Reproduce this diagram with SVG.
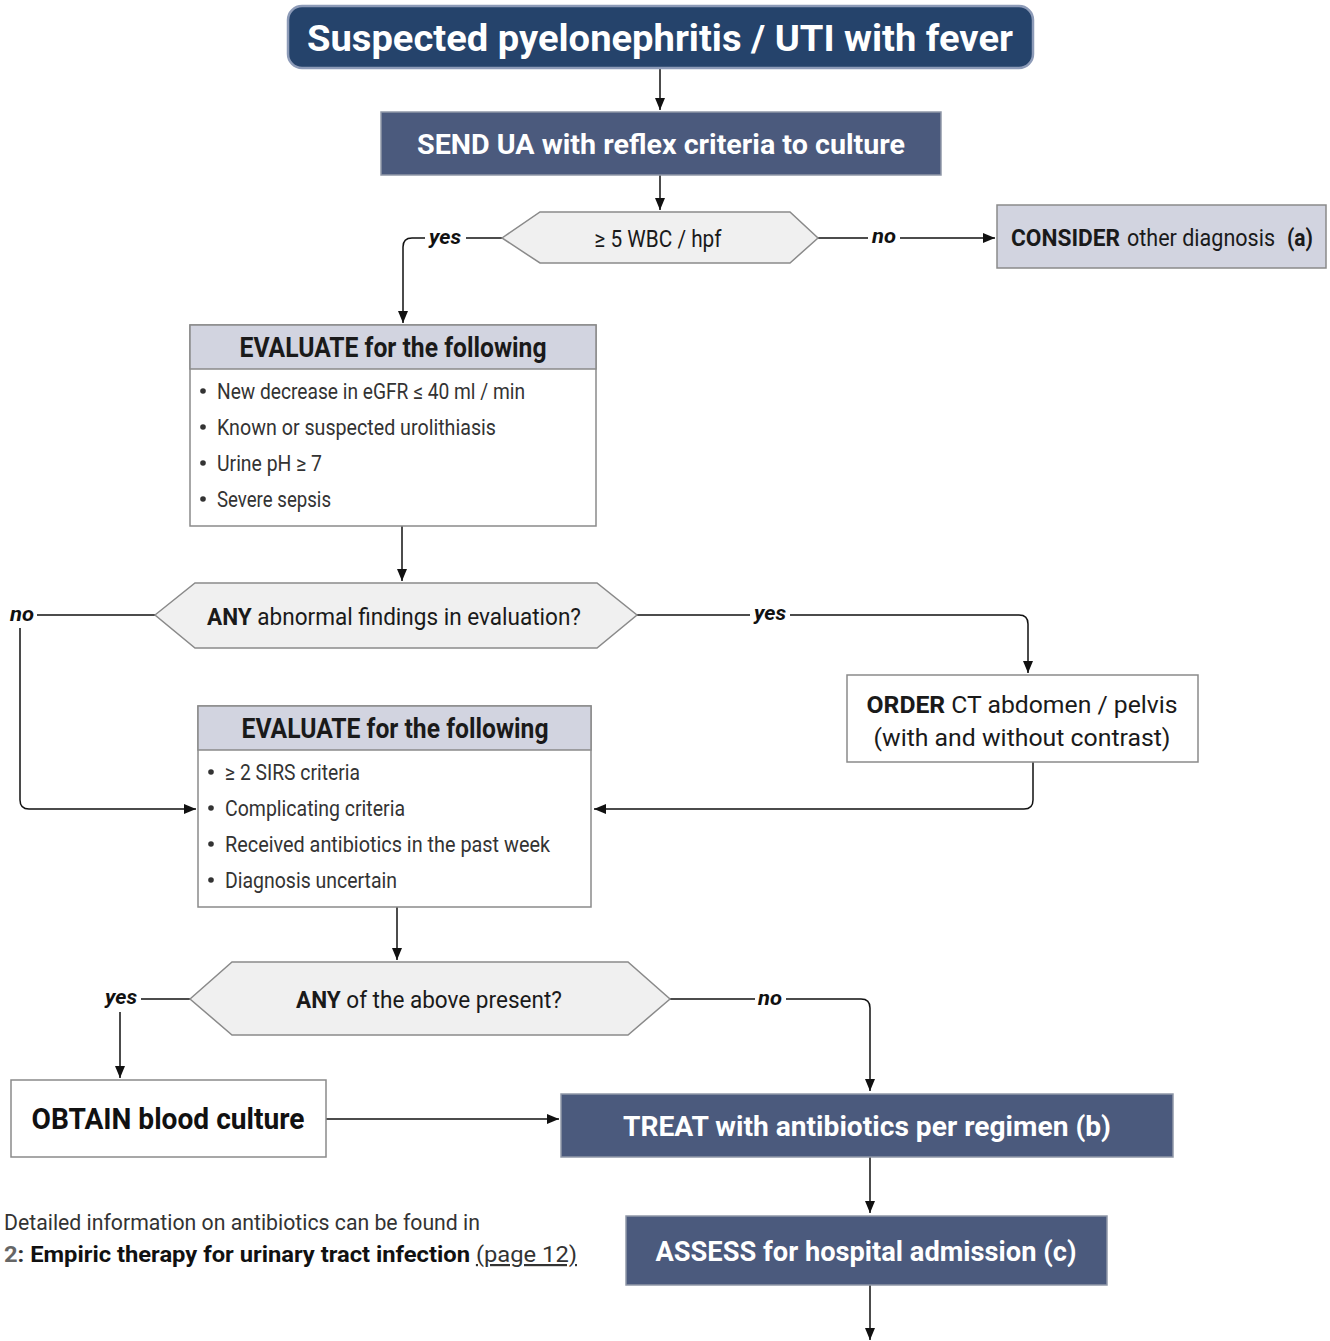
<svg xmlns="http://www.w3.org/2000/svg" width="1330" height="1341" viewBox="0 0 1330 1341">
<style>
text{font-family:"Liberation Sans Narrow","Roboto","Liberation Sans",sans-serif;}
.dark{fill:#4b5a7d;stroke:#9098a8;stroke-width:1.5}
.lite{fill:#d2d4e0;stroke:#8a8a8a;stroke-width:1.5}
.white{fill:#ffffff;stroke:#8a8a8a;stroke-width:1.5}
.hex{fill:#f0f0f0;stroke:#8a8a8a;stroke-width:1.5}
.wt{fill:#ffffff;font-weight:bold;font-size:28px;text-anchor:middle}
.bt{fill:#1a1a1a;font-size:24px}
.hd{fill:#1a1a1a;font-weight:bold;font-size:27px;text-anchor:middle}
.li{fill:#333333;font-size:22px}
.lab{fill:#111111;font-weight:bold;font-style:italic;font-size:21px}
.con{fill:none;stroke:#111111;stroke-width:1.5}
.b{font-weight:bold}
</style>
<defs>
<marker id="ah" viewBox="0 0 12 10" refX="12" refY="5" markerWidth="12" markerHeight="10" markerUnits="userSpaceOnUse" orient="auto">
<path d="M0,0 L12,5 L0,10 z" fill="#111111"/>
</marker>
</defs>

<g id="connectors">
<path class="con" d="M660,68 V110" marker-end="url(#ah)"/>
<path class="con" d="M660,175 V210" marker-end="url(#ah)"/>
<path class="con" d="M502,238 H466"/>
<path class="con" d="M425,238 H412 Q403,238 403,247 V323" marker-end="url(#ah)"/>
<path class="con" d="M818,238 H868"/>
<path class="con" d="M900,238 H995" marker-end="url(#ah)"/>
<path class="con" d="M402,526 V581" marker-end="url(#ah)"/>
<path class="con" d="M155,615 H37"/>
<path class="con" d="M20,628 V800 Q20,809 29,809 H196" marker-end="url(#ah)"/>
<path class="con" d="M637,615 H750"/>
<path class="con" d="M790,615 H1019 Q1028,615 1028,624 V673" marker-end="url(#ah)"/>
<path class="con" d="M1033,762 V800 Q1033,809 1024,809 H594" marker-end="url(#ah)"/>
<path class="con" d="M397,907 V960" marker-end="url(#ah)"/>
<path class="con" d="M190,999 H141"/>
<path class="con" d="M120,1012 V1078" marker-end="url(#ah)"/>
<path class="con" d="M670,999 H755"/>
<path class="con" d="M786,999 H861 Q870,999 870,1008 V1091" marker-end="url(#ah)"/>
<path class="con" d="M326,1119 H559" marker-end="url(#ah)"/>
<path class="con" d="M870,1157 V1213" marker-end="url(#ah)"/>
<path class="con" d="M870,1285 V1340" marker-end="url(#ah)"/>
<text class="lab" x="429" y="244" textLength="32" lengthAdjust="spacingAndGlyphs">yes</text>
<text class="lab" x="872" y="243" textLength="24" lengthAdjust="spacingAndGlyphs">no</text>
<text class="lab" x="10" y="621" textLength="24" lengthAdjust="spacingAndGlyphs">no</text>
<text class="lab" x="754" y="620" textLength="32" lengthAdjust="spacingAndGlyphs">yes</text>
<text class="lab" x="105" y="1004" textLength="32" lengthAdjust="spacingAndGlyphs">yes</text>
<text class="lab" x="758" y="1005" textLength="24" lengthAdjust="spacingAndGlyphs">no</text>
</g>

<g id="start">
<rect x="288" y="6" width="745" height="62" rx="14" fill="#25436b" stroke="#8d9bb8" stroke-width="2.5"/>
<text x="660" y="51" fill="#ffffff" font-weight="bold" font-size="36" text-anchor="middle" textLength="706" lengthAdjust="spacingAndGlyphs">Suspected pyelonephritis / UTI with fever</text>
</g>

<g id="send">
<rect class="dark" x="381" y="112" width="560" height="63"/>
<text class="wt" x="661" y="154" textLength="488" lengthAdjust="spacingAndGlyphs">SEND UA with reflex criteria to culture</text>
</g>

<g id="wbc">
<polygon class="hex" points="502,238 540,212 790,212 818,238 790,263 540,263"/>
<text class="bt" x="658" y="247" text-anchor="middle" textLength="127" lengthAdjust="spacingAndGlyphs">≥ 5 WBC / hpf</text>
</g>

<g id="consider">
<rect class="lite" x="997" y="205" width="329" height="63"/>
<text class="bt b" x="1011" y="246" font-size="23" textLength="109" lengthAdjust="spacingAndGlyphs">CONSIDER</text>
<text class="bt" x="1127" y="246" font-size="21" textLength="148" lengthAdjust="spacingAndGlyphs">other diagnosis</text>
<text class="bt b" x="1287" y="246" font-size="23" textLength="26" lengthAdjust="spacingAndGlyphs">(a)</text>
</g>

<g id="evaluate1">
<rect class="white" x="190" y="325" width="406" height="201"/>
<rect class="lite" x="190" y="325" width="406" height="44"/>
<text class="hd" x="393" y="357" textLength="307" lengthAdjust="spacingAndGlyphs">EVALUATE for the following</text>
<circle cx="203" cy="391" r="2.8" fill="#333"/>
<circle cx="203" cy="427" r="2.8" fill="#333"/>
<circle cx="203" cy="463" r="2.8" fill="#333"/>
<circle cx="203" cy="499" r="2.8" fill="#333"/>
<text class="li" x="217" y="399" textLength="308" lengthAdjust="spacingAndGlyphs">New decrease in eGFR ≤ 40 ml / min</text>
<text class="li" x="217" y="435" textLength="279" lengthAdjust="spacingAndGlyphs">Known or suspected urolithiasis</text>
<text class="li" x="217" y="471" textLength="105" lengthAdjust="spacingAndGlyphs">Urine pH ≥ 7</text>
<text class="li" x="217" y="507" textLength="114" lengthAdjust="spacingAndGlyphs">Severe sepsis</text>
</g>

<g id="abnormal">
<polygon class="hex" points="155,615 195,583 597,583 637,615 597,648 195,648"/>
<text class="bt" x="394" y="625" text-anchor="middle" textLength="374" lengthAdjust="spacingAndGlyphs"><tspan class="b">ANY</tspan> abnormal findings in evaluation?</text>
</g>

<g id="order">
<rect class="white" x="847" y="675" width="351" height="87"/>
<text class="bt" x="1022" y="713" text-anchor="middle" font-size="28" textLength="311" lengthAdjust="spacingAndGlyphs"><tspan class="b">ORDER</tspan> CT abdomen / pelvis</text>
<text class="bt" x="1022" y="746" text-anchor="middle" font-size="28" textLength="297" lengthAdjust="spacingAndGlyphs">(with and without contrast)</text>
</g>

<g id="evaluate2">
<rect class="white" x="198" y="706" width="393" height="201"/>
<rect class="lite" x="198" y="706" width="393" height="44"/>
<text class="hd" x="395" y="738" textLength="307" lengthAdjust="spacingAndGlyphs">EVALUATE for the following</text>
<circle cx="211" cy="772" r="2.8" fill="#333"/>
<circle cx="211" cy="808" r="2.8" fill="#333"/>
<circle cx="211" cy="844" r="2.8" fill="#333"/>
<circle cx="211" cy="880" r="2.8" fill="#333"/>
<text class="li" x="225" y="780" textLength="135" lengthAdjust="spacingAndGlyphs">≥ 2 SIRS criteria</text>
<text class="li" x="225" y="816" textLength="180" lengthAdjust="spacingAndGlyphs">Complicating criteria</text>
<text class="li" x="225" y="852" textLength="325" lengthAdjust="spacingAndGlyphs">Received antibiotics in the past week</text>
<text class="li" x="225" y="888" textLength="172" lengthAdjust="spacingAndGlyphs">Diagnosis uncertain</text>
</g>

<g id="above">
<polygon class="hex" points="190,999 232,962 628,962 670,999 628,1035 232,1035"/>
<text class="bt" x="429" y="1008" text-anchor="middle" textLength="266" lengthAdjust="spacingAndGlyphs"><tspan class="b">ANY</tspan> of the above present?</text>
</g>

<g id="obtain">
<rect class="white" x="11" y="1080" width="315" height="77"/>
<text x="168" y="1129" fill="#111" font-weight="bold" font-size="30" text-anchor="middle" textLength="273" lengthAdjust="spacingAndGlyphs">OBTAIN blood culture</text>
</g>

<g id="treat">
<rect class="dark" x="561" y="1094" width="612" height="63"/>
<text class="wt" x="867" y="1136" textLength="488" lengthAdjust="spacingAndGlyphs">TREAT with antibiotics per regimen (b)</text>
</g>

<g id="assess">
<rect class="dark" x="626" y="1216" width="481" height="69"/>
<text class="wt" x="866" y="1261" textLength="421" lengthAdjust="spacingAndGlyphs">ASSESS for hospital admission (c)</text>
</g>

<g id="footnote">
<text x="4" y="1230" fill="#333" font-size="22" textLength="476" lengthAdjust="spacingAndGlyphs">Detailed information on antibiotics can be found in</text>
<text x="4" y="1262" fill="#111" font-size="22" textLength="573" lengthAdjust="spacingAndGlyphs"><tspan font-weight="bold" fill="#666">2</tspan><tspan font-weight="bold" fill="#333">:</tspan> <tspan font-weight="bold">Empiric therapy for urinary tract infection</tspan> <tspan fill="#333" text-decoration="underline">(page 12)</tspan></text>
</g>
</svg>
